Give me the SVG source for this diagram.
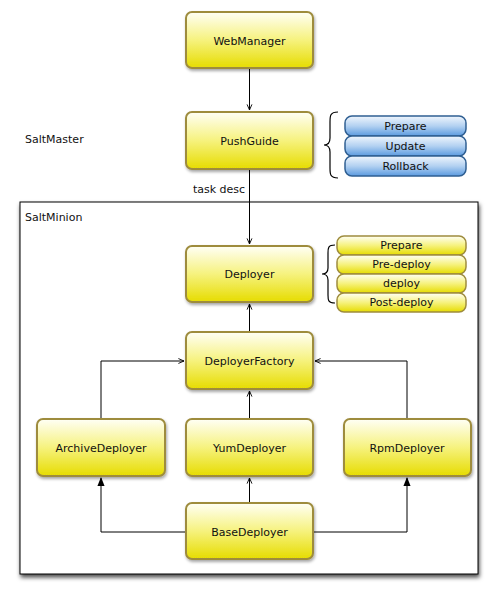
<svg xmlns="http://www.w3.org/2000/svg" width="498" height="598" viewBox="0 0 498 598">
<defs>
<linearGradient id="gy" x1="0" y1="0" x2="0" y2="1">
<stop offset="0" stop-color="#fffff6"/>
<stop offset="0.5" stop-color="#f6f27e"/>
<stop offset="1" stop-color="#e6dc00"/>
</linearGradient>
<linearGradient id="gb" x1="0" y1="0" x2="0" y2="1">
<stop offset="0" stop-color="#f0f6fd"/>
<stop offset="0.5" stop-color="#b3d1f1"/>
<stop offset="1" stop-color="#5b9ae0"/>
</linearGradient>
<filter id="sh" x="-10%" y="-10%" width="130%" height="130%">
<feDropShadow dx="1" dy="2" stdDeviation="1.5" flood-color="#000" flood-opacity="0.35"/>
</filter>
<filter id="shb" x="-5%" y="-5%" width="110%" height="110%">
<feDropShadow dx="1" dy="3" stdDeviation="2" flood-color="#000" flood-opacity="0.7"/>
</filter>
<marker id="open" viewBox="0 0 10 10" refX="9" refY="5" markerWidth="7" markerHeight="7" orient="auto" markerUnits="userSpaceOnUse">
<path d="M1,1.5 L9,5 L1,8.5" fill="none" stroke="#000" stroke-width="1.3"/>
</marker>
<marker id="fill" viewBox="0 0 10 10" refX="9" refY="5" markerWidth="9" markerHeight="9" orient="auto" markerUnits="userSpaceOnUse">
<path d="M0,1 L10,5 L0,9 Z" fill="#000"/>
</marker>
</defs>
<style>
.n rect{fill:url(#gy);stroke:#9e8c3e;stroke-width:2;filter:url(#sh)}
.s rect{fill:url(#gy);stroke:#9e8c3e;stroke-width:1.5}
.b rect{fill:url(#gb);stroke:#2f5f92;stroke-width:1.5}
text{font-family:"DejaVu Sans","Liberation Sans",sans-serif;font-size:11px;fill:#111;text-anchor:middle;dominant-baseline:central}
.lbl{text-anchor:start}
.c{fill:none;stroke:#000;stroke-width:1}
.br{fill:none;stroke:#000;stroke-width:1.2}
</style>

<rect id="saltminion" x="20" y="202" width="458" height="372" fill="#fff" stroke="#000" stroke-width="1" filter="url(#shb)"/>
<text class="lbl" x="25" y="217">SaltMinion</text>
<text class="lbl" x="25" y="139">SaltMaster</text>

<g id="connectors">
<path class="c" d="M249.5,68 V110" marker-end="url(#open)"/>
<path class="c" d="M249.5,169 V244" marker-end="url(#open)"/>
<path class="c" d="M249.5,332 V304" marker-end="url(#open)"/>
<path class="c" d="M249.5,419 V391" marker-end="url(#open)"/>
<path class="c" d="M101,419 V361 H184" marker-end="url(#open)"/>
<path class="c" d="M407,419 V361 H315" marker-end="url(#open)"/>
<path class="c" d="M249.5,503 V478" marker-end="url(#open)"/>
<path class="c" d="M186,532 H101 V478" marker-end="url(#fill)"/>
<path class="c" d="M313,532 H407 V478" marker-end="url(#fill)"/>
<text x="219" y="189">task desc</text>
</g>

<g id="WebManager" class="n"><rect x="186" y="12" width="127" height="56" rx="6"/><text x="249.5" y="41">WebManager</text></g>
<g id="PushGuide" class="n"><rect x="186" y="112" width="127" height="57" rx="6"/><text x="249.5" y="141">PushGuide</text></g>
<g id="Deployer" class="n"><rect x="186" y="246" width="127" height="56" rx="6"/><text x="249.5" y="274">Deployer</text></g>
<g id="DeployerFactory" class="n"><rect x="186" y="332" width="127" height="57" rx="6"/><text x="249.5" y="361">DeployerFactory</text></g>
<g id="ArchiveDeployer" class="n"><rect x="37" y="419" width="128" height="57" rx="6"/><text x="101" y="448">ArchiveDeployer</text></g>
<g id="YumDeployer" class="n"><rect x="186" y="419" width="127" height="57" rx="6"/><text x="249.5" y="448">YumDeployer</text></g>
<g id="RpmDeployer" class="n"><rect x="344" y="419" width="127" height="57" rx="6"/><text x="407" y="448">RpmDeployer</text></g>
<g id="BaseDeployer" class="n"><rect x="186" y="503" width="127" height="56" rx="6"/><text x="249.5" y="532">BaseDeployer</text></g>

<g id="pushguide-steps">
<path class="br" d="M338,112 C330,112 330,116 330,122 V138 C330,143 328,145 324,145 C328,145 330,147 330,152 V168 C330,174 330,178 338,178"/>
<g class="b"><rect x="345" y="116" width="121" height="20" rx="7"/><text x="405.5" y="126">Prepare</text></g>
<g class="b"><rect x="345" y="136" width="121" height="20" rx="7"/><text x="405.5" y="146">Update</text></g>
<g class="b"><rect x="345" y="156" width="121" height="20" rx="7"/><text x="405.5" y="166">Rollback</text></g>
</g>

<g id="deployer-steps">
<path class="br" d="M335,245 C328,245 328,248 328,253 V268 C328,272 326,274 322,274 C326,274 328,276 328,280 V295 C328,300 328,303 335,303"/>
<g class="s"><rect x="337" y="236" width="129" height="19" rx="7"/><text x="401.5" y="245.5">Prepare</text></g>
<g class="s"><rect x="337" y="255" width="129" height="19" rx="7"/><text x="401.5" y="264.5">Pre-deploy</text></g>
<g class="s"><rect x="337" y="274" width="129" height="19" rx="7"/><text x="401.5" y="283.5">deploy</text></g>
<g class="s"><rect x="337" y="293" width="129" height="19" rx="7"/><text x="401.5" y="302.5">Post-deploy</text></g>
</g>
</svg>
